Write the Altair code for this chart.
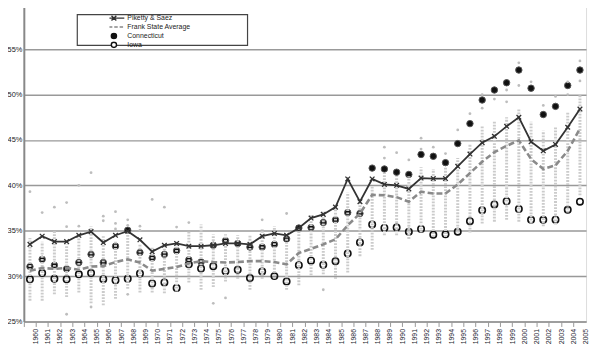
import altair as alt
import pandas as pd

years = [str(y) for y in range(1960, 2006)]

piketty_saez = [33.5, 34.4, 33.8, 33.8, 34.5, 34.9, 33.7, 34.5, 34.95, 34.0,
                32.7, 33.4, 33.6, 33.3, 33.3, 33.4, 33.6, 33.6, 33.5, 34.4,
                34.7, 34.5, 35.3, 36.4, 36.8, 37.6, 40.7, 38.2, 40.7, 40.1,
                40.0, 39.6, 40.8, 40.75, 40.75, 42.1, 43.45, 44.7, 45.4, 46.5,
                47.5, 44.8, 43.8, 44.5, 46.4, 48.4]

frank_avg = [30.6, 30.9, 30.8, 30.9, 30.7, 31.05, 31.1, 31.55, 31.85, 31.5,
             30.6, 30.8, 31.0, 31.4, 31.65, 31.55, 31.5, 31.55, 31.65, 31.65,
             31.55, 31.3, 32.55, 33.0, 33.5, 34.05, 35.6, 36.9, 38.95, 38.9,
             38.7, 38.2, 39.3, 39.1, 39.1, 40.1, 41.35, 42.6, 43.65, 44.35,
             44.95, 42.9, 41.8, 42.2, 43.8, 46.25]

connecticut = [31.05, 31.85, 31.2, 30.8, 31.5, 32.4, 31.5, 33.3, 35.05, 32.6,
               32.0, 32.4, 32.8, 31.8, 31.55, 33.4, 33.9, 33.6, 33.2, 33.2,
               33.5, 34.1, 35.3, 35.35, 35.9, 36.2, 37.0, 36.9, 41.9, 41.8,
               41.45, 41.2, 43.4, 43.2, 42.5, 44.6, 46.8, 49.4, 50.5, 51.3,
               52.7, 50.7, 47.8, 48.7, 51.0, 52.7]

iowa = [29.65, 30.35, 29.7, 29.65, 30.2, 30.35, 29.65, 29.55, 29.7, 30.3,
        29.2, 29.3, 28.7, 31.3, 30.85, 31.1, 30.55, 30.7, 29.8, 30.5,
        30.0, 29.4, 31.2, 31.7, 31.25, 31.65, 32.5, 33.7, 35.7, 35.3,
        35.35, 34.9, 35.2, 34.55, 34.6, 34.9, 36.05, 37.25, 37.9, 38.25,
        37.4, 36.2, 36.2, 36.2, 37.3, 38.2]

# spread of the other states' values (dense column) per year
state_low = [27.3, 27.3, 28.0, 27.7, 28.2, 27.0, 26.8, 27.5, 28.6, 28.2,
             28.2, 28.1, 28.3, 29.3, 28.5, 28.8, 29.4, 29.7, 28.5, 29.7,
             29.7, 28.5, 29.0, 30.1, 30.2, 29.7, 30.4, 32.2, 32.9, 34.5,
             34.5, 34.1, 34.8, 34.3, 34.3, 34.8, 34.8, 35.8, 36.0, 36.2,
             36.0, 35.8, 35.5, 35.7, 37.0, 38.9]
state_high = [34.2, 33.8, 35.0, 33.5, 34.6, 35.5, 34.4, 33.9, 35.0, 33.5,
              33.2, 33.4, 33.8, 34.9, 35.7, 34.6, 34.6, 34.5, 34.5, 35.2,
              35.5, 34.5, 35.35, 36.8, 37.1, 37.6, 39.2, 38.5, 39.9, 41.4,
              41.0, 41.0, 42.0, 41.8, 42.0, 43.0, 44.5, 46.5, 47.0, 47.5,
              48.5, 47.0, 46.0, 46.5, 48.0, 50.0]

# isolated state dots outside the dense column
outlier_years = ["1960", "1961", "1962", "1963", "1963", "1963", "1964", "1964",
                 "1965", "1965", "1966", "1966", "1967", "1967", "1967", "1968",
                 "1968", "1968", "1969", "1969", "1970", "1971", "1972", "1973",
                 "1975", "1976", "1979", "1981", "1984", "1989", "1989", "1990",
                 "1991", "1992", "1992", "1993", "1994", "1995", "1996", "1997",
                 "1997", "1998", "1999", "1999", "2000", "2000", "2001", "2002",
                 "2003", "2004", "2004", "2005", "2005"]
outlier_vals = [39.3, 37.0, 37.6, 38.1, 35.45, 25.8, 40.0, 35.5,
                41.4, 26.6, 36.6, 36.1, 37.1, 35.8, 35.2, 36.2,
                35.6, 28.0, 35.5, 35.05, 38.45, 37.6, 35.4, 35.9,
                27.0, 27.6, 36.2, 36.9, 28.5, 44.2, 43.0, 43.6,
                42.8, 45.2, 44.0, 44.2, 43.5, 46.1, 47.9, 50.0,
                48.5, 49.5, 50.5, 49.2, 53.5, 51.0, 51.4, 48.8,
                49.8, 51.4, 50.0, 53.7, 51.5]

y_ticks = [25, 30, 35, 40, 45, 50, 55, 60]
legend_names = ["Piketty & Saez", "Frank State Average", "Connecticut", "Iowa"]

df = pd.DataFrame({
    "year": years, "ps": piketty_saez, "frank": frank_avg,
    "ct": connecticut, "ia": iowa, "lo": state_low, "hi": state_high,
})
out_df = pd.DataFrame({"year": outlier_years, "v": outlier_vals})
leg_df = pd.DataFrame({"series": legend_names, "year": ["1960"] * 4, "v": [20] * 4})

W, H = 568, 321
step = W / len(years)
FONT = "Liberation Sans"

x_enc = alt.X("year:O", title=None,
              scale=alt.Scale(type="band", paddingInner=0, paddingOuter=0),
              axis=alt.Axis(bandPosition=0, labelOffset=step / 2, labelAngle=270,
                            labelFontSize=7, labelColor="#1a1a2e", labelFont=FONT,
                            labelPadding=2, tickSize=5, tickColor="#999",
                            tickWidth=1, domainColor="#999", domainWidth=1.5,
                            grid=False, labelOverlap=False))
y_scale = alt.Scale(domain=[25, 60], nice=False, zero=False)


def Y(field):
    return alt.Y(field, scale=y_scale, title=None,
                 axis=alt.Axis(values=y_ticks, labelExpr="datum.value + '%'",
                               labelFontSize=7.5, labelFont=FONT, labelColor="#222",
                               ticks=False, labelPadding=2, grid=True,
                               gridColor="#999", gridWidth=1.5,
                               domainColor="#888", domainWidth=2))


base = alt.Chart(df)

iowa_pts = base.mark_point(shape="circle", size=42, filled=False, color="#111",
                           strokeWidth=1.6, opacity=1).encode(x=x_enc, y=Y("ia:Q"))
ct_pts = base.mark_point(shape="circle", size=42, filled=True, fill="#111",
                         stroke="#555", strokeWidth=1, opacity=1).encode(
    x=x_enc, y=Y("ct:Q"))

columns = base.mark_rule(strokeDash=[1.8, 1.3], strokeWidth=3, color="#cbcbcb").encode(
    x=x_enc, y=Y("lo:Q"), y2="hi:Q")

outliers = alt.Chart(out_df).mark_circle(size=8, color="#bdbdbd", opacity=1).encode(
    x=x_enc, y=Y("v:Q"))

frank_line = base.mark_line(color="#8a8a8a", strokeWidth=2.6, strokeDash=[6, 3]).encode(
    x=x_enc, y=Y("frank:Q"))

ps_line = base.mark_line(color="#333333", strokeWidth=1.8).encode(x=x_enc, y=Y("ps:Q"))
ps_pts = base.mark_point(shape="M-1,-1L1,1M-1,1L1,-1", size=22, filled=False,
                         color="#333333", strokeWidth=1.3, opacity=1).encode(
    x=x_enc, y=Y("ps:Q"))

legend_box = alt.Chart(pd.DataFrame({"k": [0]})).mark_rect(
    fill="white", stroke="#444", strokeWidth=1.2).encode(
    x=alt.value(54), x2=alt.value(226), y=alt.value(11), y2=alt.value(42))

leg = alt.Legend(title=None, orient="none", legendX=86.5, legendY=10.75,
                 symbolSize=49, labelOffset=9, labelFontSize=7, labelFont=FONT,
                 labelColor="#222", rowPadding=0, clipHeight=7.5,
                 symbolStrokeWidth=1.4)
leg_shapes = ["M-3,0L3,0M-0.7,-0.7L0.7,0.7M-0.7,0.7L0.7,-0.7",
              "M-3,0L-2,0M-1.45,0L-0.45,0M0.1,0L1.1,0M1.65,0L2.65,0",
              "M-0.75,0A0.75,0.75,0,1,0,0.75,0A0.75,0.75,0,1,0,-0.75,0Z",
              "M-0.75,0A0.75,0.75,0,1,0,0.75,0A0.75,0.75,0,1,0,-0.75,0Z"]
legend_layer = alt.Chart(leg_df).mark_point(clip=True, opacity=1).encode(
    x=x_enc, y=Y("v:Q"),
    shape=alt.Shape("series:N", sort=legend_names, legend=leg,
                    scale=alt.Scale(domain=legend_names, range=leg_shapes)),
    fill=alt.Fill("series:N", sort=legend_names, legend=leg,
                  scale=alt.Scale(domain=legend_names,
                                  range=["transparent", "transparent", "#111", "white"])),
    stroke=alt.Stroke("series:N", sort=legend_names, legend=leg,
                      scale=alt.Scale(domain=legend_names,
                                      range=["#333", "#888", "#111", "#111"])),
)

chart = alt.layer(iowa_pts, ct_pts, columns, outliers, frank_line, ps_line, ps_pts,
                  legend_box, legend_layer).properties(
    width=W, height=H,
    autosize=alt.AutoSizeParams(type="none"),
    padding={"left": 16, "top": -6, "right": 6, "bottom": 23},
).configure_view(stroke=None).configure(background="white")

chart.save("out.html", embed_options={"renderer": "svg", "actions": False})
